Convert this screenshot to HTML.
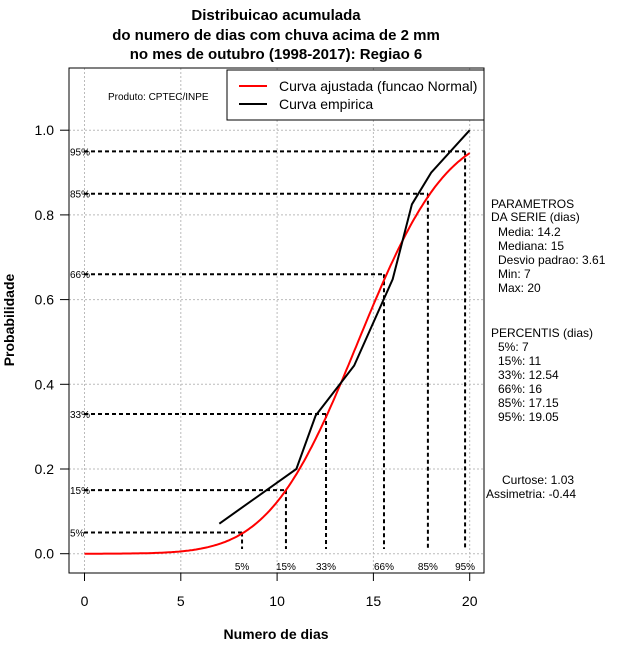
<!DOCTYPE html>
<html><head><meta charset="utf-8"><style>
body{margin:0;background:#fff}
svg text{font-family:"Liberation Sans","DejaVu Sans",sans-serif}
</style></head><body>
<svg id="chart" width="640" height="660" viewBox="0 0 640 660" xmlns="http://www.w3.org/2000/svg">
<g font-weight="bold" font-size="15" text-anchor="middle">
<text x="276" y="20">Distribuicao acumulada</text>
<text x="276" y="40">do numero de dias com chuva acima de 2 mm</text>
<text x="276" y="59">no mes de outubro (1998-2017): Regiao 6</text>
</g>
<g id="grid"></g>
<g id="pct"></g>
<g id="series"></g>
<rect x="69" y="68" width="415" height="505" fill="none" stroke="#000"/>
<g id="axes"></g>
<text x="276" y="639" font-size="14" font-weight="bold" text-anchor="middle">Numero de dias</text>
<text transform="translate(14,320) rotate(-90)" font-size="14" font-weight="bold" text-anchor="middle">Probabilidade</text>
<text x="108" y="100" font-size="10">Produto: CPTEC/INPE</text>
<g>
<rect x="227" y="70" width="257" height="50" fill="#fff" stroke="#000"/>
<line x1="239" y1="86" x2="267" y2="86" stroke="#f00" stroke-width="2"/>
<text x="279" y="91" font-size="14">Curva ajustada (funcao Normal)</text>
<line x1="239" y1="104" x2="267" y2="104" stroke="#000" stroke-width="2"/>
<text x="279" y="109" font-size="14">Curva empirica</text>
</g>
<g font-size="12">
<text x="491" y="208">PARAMETROS</text>
<text x="491" y="221">DA SERIE (dias)</text>
<text x="498" y="236">Media: 14.2</text>
<text x="498" y="250">Mediana: 15</text>
<text x="498" y="264">Desvio padrao: 3.61</text>
<text x="498" y="278">Min: 7</text>
<text x="498" y="292">Max: 20</text>
<text x="491" y="337">PERCENTIS (dias)</text>
<text x="498" y="351">5%: 7</text>
<text x="498" y="365">15%: 11</text>
<text x="498" y="379">33%: 12.54</text>
<text x="498" y="393">66%: 16</text>
<text x="498" y="407">85%: 17.15</text>
<text x="498" y="421">95%: 19.05</text>
<text x="502" y="484">Curtose: 1.03</text>
<text x="486" y="498">Assimetria: -0.44</text>
</g>
</svg>
<script>
const xTicks=[0,5,10,15,20];
const yTicks=[0,0.2,0.4,0.6,0.8,1.0];
const empX=[7,11,12,14,16,17,18,20];
const empY=[0.071,0.2,0.326,0.444,0.648,0.825,0.9,1.0];
const fitMean=[14.2];
const fitSd=[3.61];
const pctLabels=["5%","15%","33%","66%","85%","95%"];
const pctProb=[0.05,0.15,0.33,0.66,0.85,0.95];
const pctX=[8.18,10.46,12.54,15.55,17.83,19.76];
const NS="http://www.w3.org/2000/svg";
const sx=v=>84.5+v*19.26;
const sy=v=>553.7-v*423.5;
function mk(parent,tag,attrs){const e=document.createElementNS(NS,tag);for(const k in attrs)e.setAttribute(k,attrs[k]);document.getElementById(parent).appendChild(e);return e;}
xTicks.forEach(t=>{
 const g=mk('grid','line',{x1:sx(t),x2:sx(t),y1:68,y2:573,stroke:'#bbb','stroke-dasharray':'2,2'});
 
 
 const k=mk('axes','line',{x1:sx(t),x2:sx(t),y1:573,y2:581,stroke:'#000'});
 
 
 const l=mk('axes','text',{x:sx(t),y:606,'font-size':14,'text-anchor':'middle'});l.textContent=t;
 
 
});
yTicks.forEach(t=>{
 const g=mk('grid','line',{x1:69,x2:484,y1:sy(t),y2:sy(t),stroke:'#bbb','stroke-dasharray':'2,2'});
 
 
 const k=mk('axes','line',{x1:60,x2:69,y1:sy(t),y2:sy(t),stroke:'#000'});
 
 
 const l=mk('axes','text',{x:54,y:sy(t)+5,'font-size':14,'text-anchor':'end'});l.textContent=t.toFixed(1);
 
 
});
pctProb.forEach((p,i)=>{
 const h=mk('pct','line',{x1:84,x2:sx(pctX[i]),y1:sy(p),y2:sy(p),stroke:'#000','stroke-width':2,'stroke-dasharray':'4,3'});
 
 
 const v=mk('pct','line',{x1:sx(pctX[i]),x2:sx(pctX[i]),y1:sy(p),y2:549,stroke:'#000','stroke-width':2,'stroke-dasharray':'4,3'});
 
 
 const a=mk('pct','text',{x:70,y:sy(p)+4,'font-size':10});a.textContent=pctLabels[i];
 
 
 const b=mk('pct','text',{x:sx(pctX[i]),y:570,'font-size':10,'text-anchor':'middle'});b.textContent=pctLabels[i];
 
 
});
function erf(x){const s=x<0?-1:1;x=Math.abs(x);const t=1/(1+0.3275911*x);const y=1-(((((1.061405429*t-1.453152027)*t)+1.421413741)*t-0.284496736)*t+0.254829592)*t*Math.exp(-x*x);return s*y;}
let d='';
for(let i=0;i<=200;i++){const x=i*0.1;const p=0.5*(1+erf((x-fitMean[0])/(fitSd[0]*Math.SQRT2)));d+=(i?'L':'M')+sx(x).toFixed(1)+','+sy(p).toFixed(1);}
const fit=mk('series','path',{d:d,fill:'none',stroke:'#f00','stroke-width':2});


const emp=mk('series','path',{d:empX.map((x,i)=>(i?'L':'M')+sx(x)+','+sy(empY[i])).join(''),fill:'none',stroke:'#000','stroke-width':2});


</script>
</body></html>
